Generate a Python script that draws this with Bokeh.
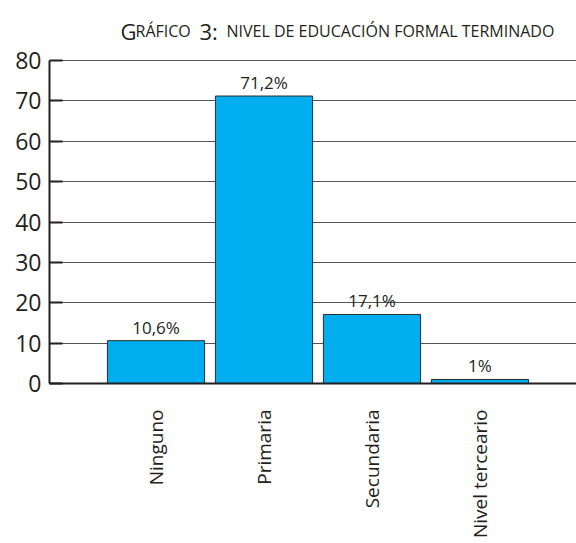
import math
from bokeh.plotting import figure
from bokeh.models import ColumnDataSource, LabelSet, Range1d, FixedTicker
from bokeh.core.properties import value
from bokeh.embed import file_html
from bokeh.resources import INLINE

categories = ["Ninguno", "Primaria", "Secundaria", "Nivel terceario"]
values = [10.6, 71.2, 17.1, 1.0]
value_labels = ["10,6%", "71,2%", "17,1%", "1%"]
y_ticks = [0, 10, 20, 30, 40, 50, 60, 70, 80]
title_big = ["G", "3:"]
title_small = ["RÁFICO", "NIVEL DE EDUCACIÓN FORMAL TERMINADO"]

FONT = "Open Sans"
TXT = "#231F20"

# layout (pixels)
W, H = 576, 543
FRAME_L, FRAME_T, FRAME_B = 49, 10, 383
PX_PER_X = 108.0
X1_PX = 155.5
Y0_PX, Y80_PX = 383, 60
ppy = (Y0_PX - Y80_PX) / 80.0

def px2x(px):
    return 1 + (px - X1_PX) / PX_PER_X

def py2y(py):
    return (Y0_PX - py) / ppy

xs = list(range(1, len(categories) + 1))
src = ColumnDataSource(dict(x=xs, top=values, lab=value_labels))

p = figure(width=W, height=H, output_backend="svg", toolbar_location=None,
           x_range=Range1d(px2x(FRAME_L), px2x(W)),
           y_range=Range1d(0, py2y(FRAME_T)))
p.min_border_left = FRAME_L
p.min_border_top = FRAME_T
p.min_border_bottom = H - FRAME_B
p.min_border_right = 0
p.outline_line_color = None

p.ygrid.ticker = FixedTicker(ticks=y_ticks)
p.ygrid.grid_line_color = "#555555"
p.ygrid.grid_line_width = 1
p.xgrid.grid_line_color = None

p.vbar(x="x", top="top", width=0.9, bottom=0, source=src,
       fill_color="#00AEEF", line_color="#2b2b2b", line_width=1)

p.add_layout(LabelSet(x="x", y="top", text="lab", source=src, text_align="center",
                      text_baseline="alphabetic", y_offset=7, text_font=value(FONT),
                      text_font_size=value("17px"), text_color=TXT))

# y axis
ya = p.yaxis[0]
ya.ticker = FixedTicker(ticks=y_ticks)
ya.bounds = (y_ticks[0], y_ticks[-1])
ya.axis_line_color = TXT
ya.axis_line_width = 2
ya.major_tick_in = 13
ya.major_tick_out = 0
ya.major_tick_line_width = 2
ya.major_tick_line_color = TXT
ya.minor_tick_line_color = None
ya.major_label_text_font = FONT
ya.major_label_text_font_size = "23px"
ya.major_label_text_color = TXT
ya.major_label_standoff = 8

# x axis
xa = p.xaxis[0]
xa.ticker = FixedTicker(ticks=xs)
xa.major_label_overrides = {x: c for x, c in zip(xs, categories)}
xa.major_label_orientation = math.pi / 2
xa.axis_line_color = TXT
xa.axis_line_width = 2
xa.major_tick_line_color = None
xa.minor_tick_line_color = None
xa.major_label_text_font = FONT
xa.major_label_text_font_size = "19px"
xa.major_label_text_color = TXT
xa.major_label_standoff = 20

# title (small caps imitation)
base_y = py2y(30)
p.text(x=[px2x(120), px2x(199)], y=[base_y, base_y], text=title_big,
       text_font=value(FONT), text_font_size=value("22px"), text_color=TXT,
       text_align="left", text_baseline="alphabetic")
p.text(x=[px2x(135), px2x(226)], y=[base_y, base_y], text=title_small,
       text_font=value(FONT), text_font_size=value("16px"), text_color=TXT,
       text_align="left", text_baseline="alphabetic")

open("out.html", "w").write(file_html(p, INLINE))
